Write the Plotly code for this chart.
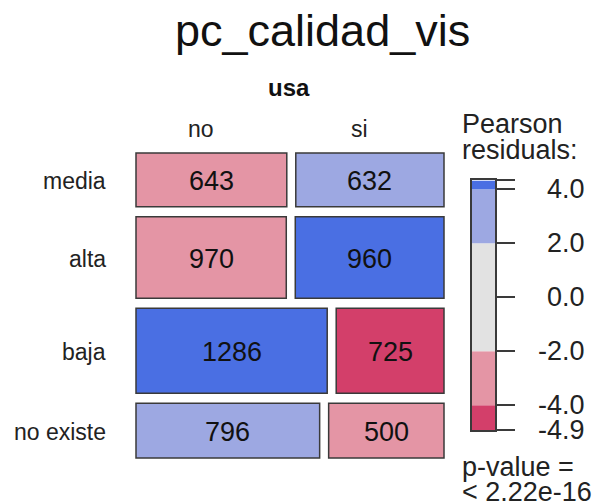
import numpy as np
import plotly.graph_objects as go

# ---------------- data ----------------
title_text = "pc_calidad_vis"
col_var = "usa"
row_levels = ["media", "alta", "baja", "no existe"]
col_levels = ["no", "si"]
counts_no = [643, 970, 1286, 796]
counts_si = [632, 960, 725, 500]
legend_tick_vals = [-4.9, -4.0, -2.0, 0.0, 2.0, 4.0]
legend_tick_text = ["-4.9", "-4.0", "-2.0", "0.0", "2.0", "4.0"]
shade_breaks = [2.0, 4.0]
pvalue_lines = ["p-value =", "< 2.22e-16"]
legend_title_lines = ["Pearson", "residuals:"]

# ---------------- derived ----------------
obs = np.array([counts_no, counts_si], dtype=float).T  # rows x cols
total = obs.sum()
row_tot = obs.sum(axis=1)
col_tot = obs.sum(axis=0)
expected = np.outer(row_tot, col_tot) / total
resid = (obs - expected) / np.sqrt(expected)
rmin, rmax = float(resid.min()), float(resid.max())

C_POS_HI = "#4A6FE3"
C_POS_LO = "#9DA8E2"
C_NEU = "#E2E2E2"
C_NEG_LO = "#E495A5"
C_NEG_HI = "#D33F6A"


def shade(r):
    if r > shade_breaks[1]:
        return C_POS_HI
    if r > shade_breaks[0]:
        return C_POS_LO
    if r < -shade_breaks[1]:
        return C_NEG_HI
    if r < -shade_breaks[0]:
        return C_NEG_LO
    return C_NEU


FONT = "Liberation Sans, Arial, Helvetica, sans-serif"
PAGE_W, PAGE_H = 600, 504
OFF = 8  # default page body margin
W, H = PAGE_W - OFF, PAGE_H - OFF
LEFT, RIGHT, TOP, BOTTOM = 136, 444, 153, 458
HGAP, VGAP = 9, 10
EDGE = "#3a3a3a"


def px_to_paper_x(px):
    return (px - OFF) / W


def px_to_paper_y(py):
    return 1 - (py - OFF) / H


fig = go.Figure()
shapes = []
annotations = []

usable_h = (BOTTOM - TOP) - VGAP * (len(row_levels) - 1)
usable_w = (RIGHT - LEFT) - HGAP * (len(col_levels) - 1)

y_cursor = TOP
top_row_centers = []
for i, lvl in enumerate(row_levels):
    h = row_tot[i] / total * usable_h
    x_cursor = LEFT
    for j in range(len(col_levels)):
        w = obs[i, j] / row_tot[i] * usable_w
        shapes.append(dict(type="rect", xref="x", yref="y",
                           x0=x_cursor, x1=x_cursor + w,
                           y0=y_cursor, y1=y_cursor + h,
                           fillcolor=shade(resid[i, j]),
                           line=dict(color=EDGE, width=1.5), layer="below"))
        annotations.append(dict(x=x_cursor + w / 2, y=y_cursor + h / 2 + 1,
                                xref="x", yref="y", text=str(int(obs[i, j])),
                                showarrow=False, xanchor="center", yanchor="middle",
                                font=dict(family=FONT, size=27, color="#111")))
        if i == 0:
            top_row_centers.append(x_cursor + w / 2)
        x_cursor += w + HGAP
    annotations.append(dict(x=108, y=y_cursor + h / 2 + 1, xref="x", yref="y",
                            text=lvl, showarrow=False, xanchor="right", yanchor="middle",
                            font=dict(family=FONT, size=23, color="#222")))
    y_cursor += h + VGAP

# column labels
for j, lvl in enumerate(col_levels):
    annotations.append(dict(x=top_row_centers[j] - 10, y=129, xref="x", yref="y",
                            text=lvl, showarrow=False, xanchor="center", yanchor="middle",
                            font=dict(family=FONT, size=23, color="#222")))
annotations.append(dict(x=289, y=87, xref="x", yref="y", text="<b>%s</b>" % col_var,
                        showarrow=False, xanchor="center", yanchor="middle",
                        font=dict(family=FONT, size=24, color="#111")))
annotations.append(dict(x=322, y=30, xref="x", yref="y", text=title_text,
                        showarrow=False, xanchor="center", yanchor="middle",
                        font=dict(family=FONT, size=45, color="#111")))

# legend title and p-value
for k, line in enumerate(legend_title_lines):
    annotations.append(dict(x=460, y=124 + 26 * k, xref="x", yref="y", text=line,
                            showarrow=False, xanchor="left", yanchor="middle",
                            font=dict(family=FONT, size=27, color="#222")))
for k, line in enumerate(pvalue_lines):
    annotations.append(dict(x=460, y=467 + 25 * k, xref="x", yref="y", text=line,
                            showarrow=False, xanchor="left", yanchor="middle",
                            font=dict(family=FONT, size=27, color="#222")))

# ---------------- legend colour bar ----------------
PX_PER_UNIT = 27.0
LEG_BOTTOM_PX = 430.0
leg_top_px = LEG_BOTTOM_PX - (rmax - rmin) * PX_PER_UNIT
band_lo = [rmin, -shade_breaks[1], -shade_breaks[0], shade_breaks[0], shade_breaks[1]]
band_hi = [-shade_breaks[1], -shade_breaks[0], shade_breaks[0], shade_breaks[1], rmax]
band_col = [C_NEG_HI, C_NEG_LO, C_NEU, C_POS_LO, C_POS_HI]
fig.add_trace(go.Bar(x=[0.5] * 5, base=band_lo,
                     y=[hi - lo for lo, hi in zip(band_lo, band_hi)],
                     width=1.0, marker=dict(color=band_col, line=dict(width=0)),
                     xaxis="x2", yaxis="y2", hoverinfo="skip", showlegend=False))

for v, t in zip(legend_tick_vals, legend_tick_text):
    annotations.append(dict(x=587, xref="x", y=v, yref="y2", text=t, showarrow=False,
                            xanchor="right", yanchor="middle",
                            font=dict(family=FONT, size=27, color="#222")))

fig.update_layout(
    width=W, height=H,
    margin=dict(l=0, r=0, t=0, b=0),
    paper_bgcolor="white", plot_bgcolor="rgba(0,0,0,0)",
    showlegend=False, barmode="overlay",
    shapes=shapes, annotations=annotations,
    xaxis=dict(range=[OFF, PAGE_W], domain=[0, 1], visible=False, fixedrange=True),
    yaxis=dict(range=[PAGE_H, OFF], domain=[0, 1], visible=False, fixedrange=True),
    xaxis2=dict(domain=[px_to_paper_x(471.5), px_to_paper_x(495.0)], range=[0, 1],
                anchor="y2", showticklabels=False, ticks="", showgrid=False,
                zeroline=False, showline=True, mirror=True, linecolor=EDGE,
                linewidth=1.5, fixedrange=True),
    yaxis2=dict(domain=[px_to_paper_y(LEG_BOTTOM_PX), px_to_paper_y(leg_top_px)],
                range=[rmin, rmax], anchor="x2", side="right",
                tickvals=legend_tick_vals + [rmax], showticklabels=False,
                ticks="outside", ticklen=18, tickwidth=1.5, tickcolor=EDGE,
                showgrid=False, zeroline=False, fixedrange=True,
                showline=True, mirror=True, linecolor=EDGE, linewidth=1.5),
)

fig.write_html("out.html")
